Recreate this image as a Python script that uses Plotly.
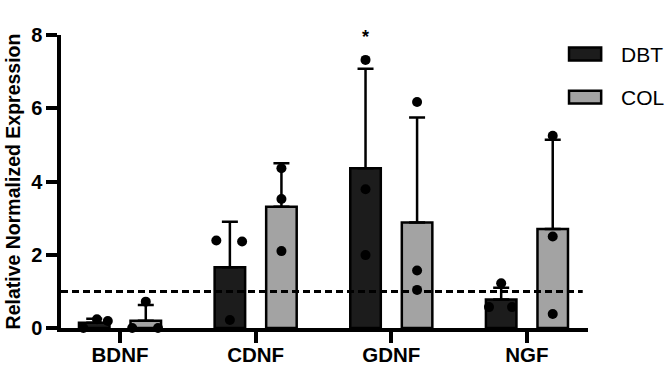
import plotly.graph_objects as go

categories = ["BDNF", "CDNF", "GDNF", "NGF"]
groups = ["DBT", "COL"]

dbt_mean = [0.14, 1.66, 4.36, 0.78]
dbt_sd = [0.11, 1.24, 2.72, 0.32]
col_mean = [0.20, 3.31, 2.88, 2.70]
col_sd = [0.43, 1.19, 2.87, 2.44]

dbt_points = [[0.0, 0.24, 0.19], [2.39, 2.36, 0.22], [7.32, 3.79, 1.99], [1.22, 0.57, 0.57]]
col_points = [[0.0, 0.0, 0.72], [4.36, 3.52, 2.10], [6.17, 1.57, 1.04], [5.25, 2.50, 0.38]]

# horizontal jitter of individual points (in category units)
dbt_jitter = [[-0.08, 0.02, 0.10], [-0.10, 0.09, 0.0], [0.0, 0.0, 0.0], [0.0, -0.09, 0.08]]
col_jitter = [[-0.10, 0.09, 0.0], [0.0, 0.0, 0.0], [0.0, 0.0, 0.0], [0.0, 0.0, 0.0]]

ref_line = 1.0
y_ticks = [0, 2, 4, 6, 8]

OFFSET = 0.19
BAR_W = 0.225
FONT = "Arial, Liberation Sans, sans-serif"

xc = list(range(len(categories)))
fig = go.Figure()

series = [
    ("DBT", dbt_mean, dbt_sd, dbt_points, dbt_jitter, -OFFSET, "#1c1c1c"),
    ("COL", col_mean, col_sd, col_points, col_jitter, OFFSET, "#a3a3a3"),
]

for name, mean, sd, pts, jit, off, color in series:
    xs = [x + off for x in xc]
    fig.add_trace(go.Bar(
        x=xs, y=mean, width=BAR_W, name=name,
        marker=dict(color=color, line=dict(color="black", width=2.5)),
        error_y=dict(type="data", array=sd, arrayminus=[0] * len(sd), symmetric=False,
                     color="black", thickness=2.5, width=8),
        showlegend=False,
    ))
    px, py = [], []
    for i, x in enumerate(xs):
        for v, j in zip(pts[i], jit[i]):
            px.append(x + j)
            py.append(v)
    fig.add_trace(go.Scatter(
        x=px, y=py, mode="markers", cliponaxis=False,
        marker=dict(color="black", size=10, line=dict(width=0)),
        showlegend=False, hoverinfo="y",
    ))

# significance star above GDNF DBT
fig.add_annotation(x=2 - OFFSET, y=7.95, text="<b>*</b>", showarrow=False,
                   font=dict(family=FONT, size=18, color="black"), yanchor="middle")

# dashed reference line
fig.add_shape(type="line", xref="paper", yref="y", x0=0, x1=0.99, y0=ref_line, y1=ref_line,
              line=dict(color="black", width=3, dash="7px,4px"))

# manual legend
legend_items = [("DBT", "#1c1c1c", 0.935), ("COL", "#a3a3a3", 0.788)]
for name, color, yc in legend_items:
    fig.add_shape(type="rect", xref="paper", yref="paper", x0=0.964, x1=1.025,
                  y0=yc - 0.022, y1=yc + 0.022, fillcolor=color,
                  line=dict(color="black", width=2.5))
    fig.add_annotation(xref="paper", yref="paper", x=1.058, y=yc, text=name, showarrow=False,
                       xanchor="left", yanchor="middle",
                       font=dict(family=FONT, size=21, color="black"))

fig.update_layout(
    width=667, height=366,
    margin=dict(l=61, r=79, t=35, b=38),
    plot_bgcolor="white", paper_bgcolor="white",
    barmode="overlay",
    font=dict(family=FONT, color="black"),
    xaxis=dict(
        range=[-0.435, 3.45], tickmode="array", tickvals=xc,
        ticktext=["<b>%s</b>" % c for c in categories],
        tickfont=dict(family=FONT, size=20.5, color="black"),
        showgrid=False, zeroline=False, showline=True, linecolor="black", linewidth=3.5,
        ticks="outside", ticklen=11, tickwidth=3.5, tickcolor="black", automargin=False,
        ticklabelstandoff=-5,
    ),
    yaxis=dict(
        range=[0, 8], tickmode="array", tickvals=y_ticks,
        ticktext=["<b>%d</b>" % t for t in y_ticks],
        tickfont=dict(family=FONT, size=20, color="black"),
        title=dict(text="<b>Relative Normalized Expression</b>", standoff=6,
                   font=dict(family=FONT, size=19.5, color="black")),
        showgrid=False, zeroline=False, showline=True, linecolor="black", linewidth=3.5,
        ticks="outside", ticklen=11, tickwidth=3.5, tickcolor="black", automargin=False,
    ),
)

fig.write_html(
    "out.html",
    config={"displayModeBar": False},
    post_script="document.body.style.margin='0';document.body.style.overflow='hidden';",
)
